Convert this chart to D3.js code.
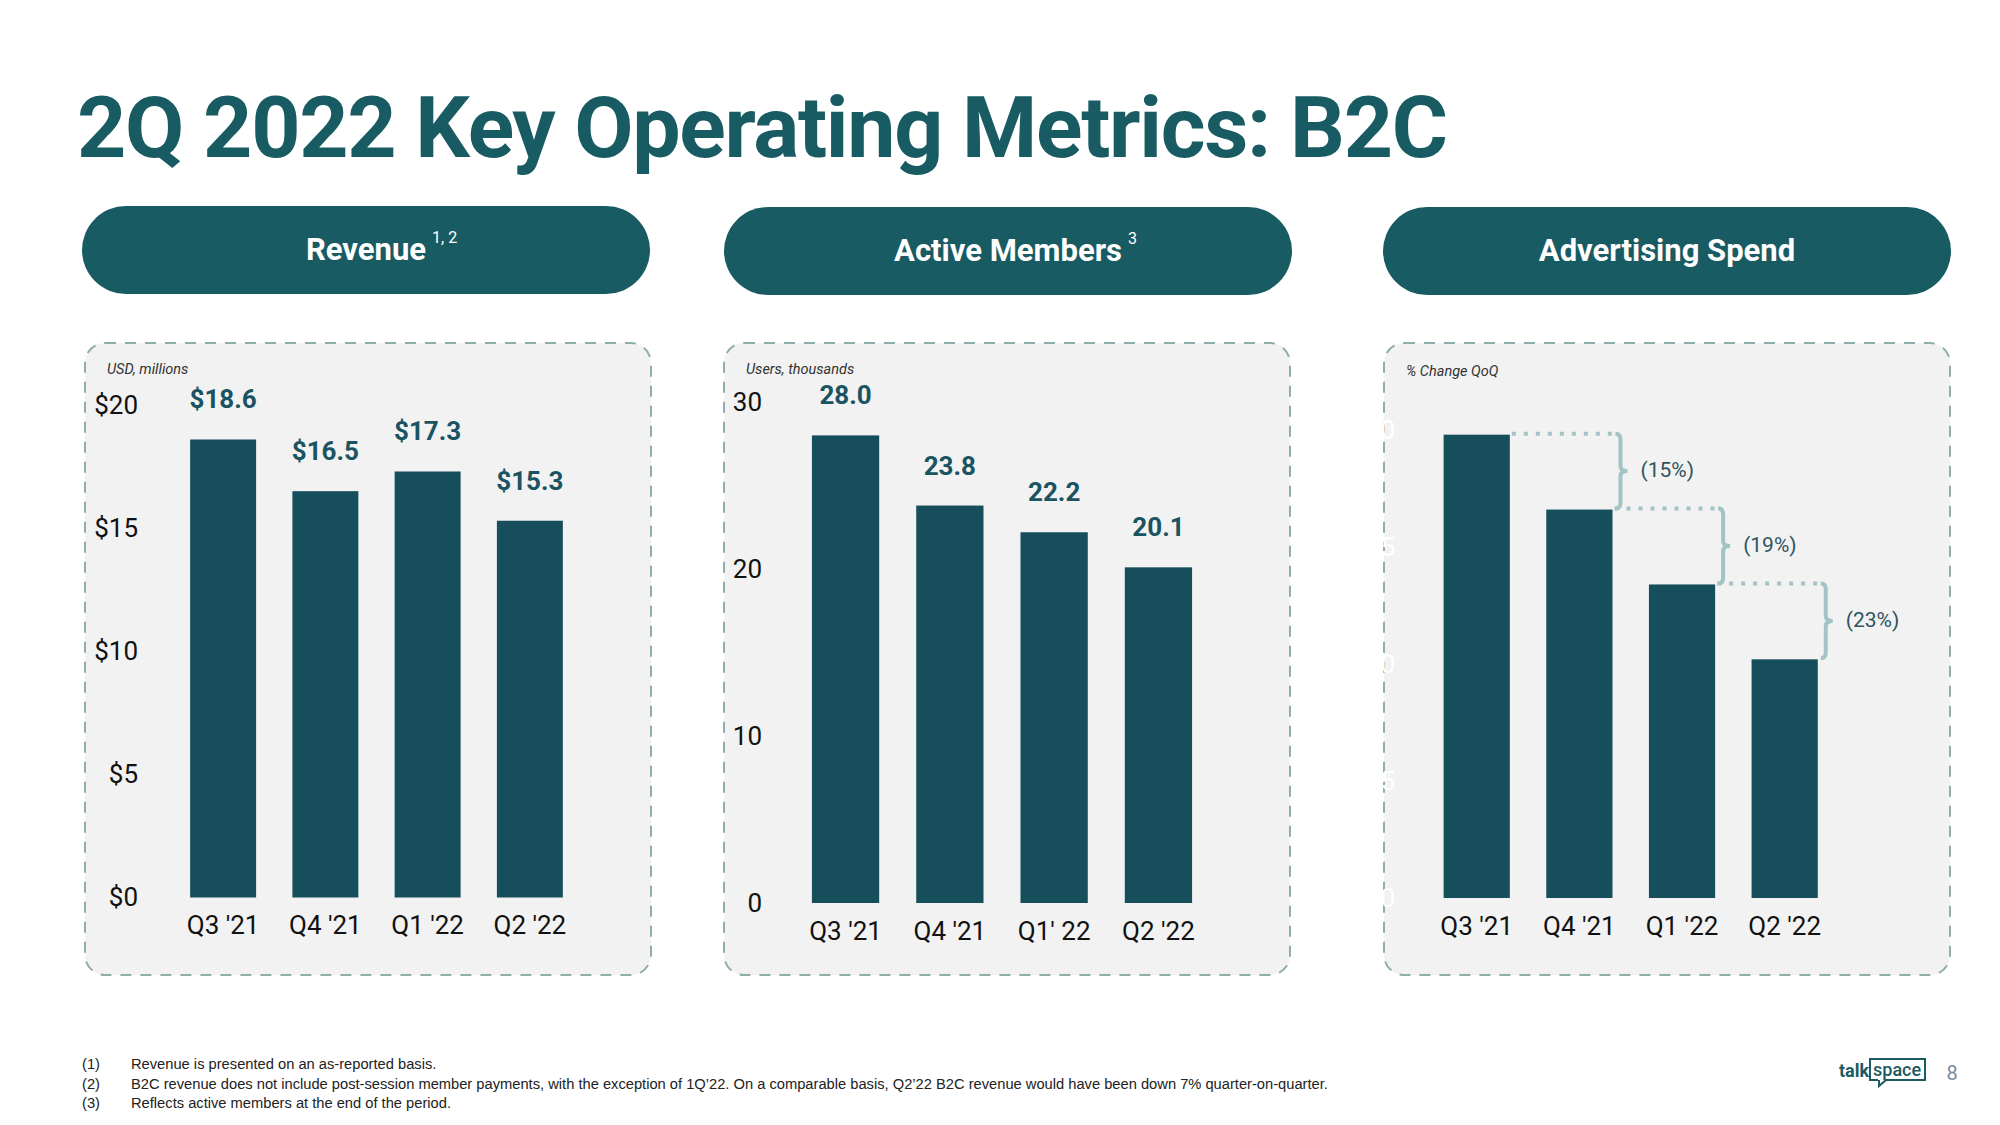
<!DOCTYPE html>
<html><head><meta charset="utf-8">
<script src="https://cdn.jsdelivr.net/npm/d3@7/dist/d3.min.js"></script>
<style>
body{margin:0;background:#fff;}
svg{display:block;}
</style>
</head><body>
<svg id="c" width="2000" height="1125" font-family="Roboto, 'Noto Sans', sans-serif"></svg>
<script>
// ---------- data ----------
const titleText = "2Q 2022 Key Operating Metrics: B2C";
const quarters = ["Q3 '21", "Q4 '21", "Q1 '22", "Q2 '22"];
const quartersMembers = ["Q3 '21", "Q4 '21", "Q1' 22", "Q2 '22"];
const revenue = [18.6, 16.5, 17.3, 15.3];
const revenueLabels = ["$18.6", "$16.5", "$17.3", "$15.3"];
const revenueTicks = [0, 5, 10, 15, 20];
const members = [28.0, 23.8, 22.2, 20.1];
const memberLabels = ["28.0", "23.8", "22.2", "20.1"];
const memberTicks = [0, 10, 20, 30];
const adSpend = [19.8, 16.6, 13.4, 10.2];
const adTicks = [0, 5, 10, 15, 20];
const adChanges = ["(15%)", "(19%)", "(23%)"];
const panelTitles = ["Revenue", "Active Members", "Advertising Spend"];
const panelSupers = ["1, 2", "3", ""];
const panelUnits = ["USD, millions", "Users, thousands", "% Change QoQ"];
const footMarks = ["(1)", "(2)", "(3)"];
const footTexts = [
  "Revenue is presented on an as-reported basis.",
  "B2C revenue does not include post-session member payments, with the exception of 1Q\u201922. On a comparable basis, Q2\u201922 B2C revenue would have been down 7% quarter-on-quarter.",
  "Reflects active members at the end of the period."
];

// ---------- styles ----------
const TEAL = "#185b63";
const BAR = "#164f5b";
const VAL = "#1a5361";
const PANEL_BG = "#f2f2f2";
const DASH = "#8fadaa";
const BRACE = "#a3c3c7";
const ARIAL = "'Liberation Sans', Arial, sans-serif";

const svg = d3.select("#c");

// title
svg.append("text").attr("x", 77).attr("y", 157)
  .attr("font-size", 86).attr("font-weight", 700).attr("fill", TEAL)
  .attr("letter-spacing", -1.3)
  .text(titleText);

// panels layout
const panels = [
  {px: 85, pillX: 82, pillY: 206, ty: 260, range: [172, 581], yRange: [897.5, 405], axisX: 138},
  {px: 724, pillX: 724, pillY: 207, ty: 261, range: [793.4, 1210.6], yRange: [903, 402], axisX: 762},
  {px: 1384, pillX: 1383, pillY: 207, ty: 261, range: [1425.4, 1836], yRange: [898, 430], axisX: 1395}
];
const pillW = 568, pillH = 88, panelW = 566, panelY = 343, panelH = 632;

panels.forEach((p, i) => {
  // pill
  svg.append("rect").attr("x", p.pillX).attr("y", p.pillY).attr("width", pillW).attr("height", pillH)
    .attr("rx", pillH / 2).attr("fill", TEAL);
  const cx = p.pillX + pillW / 2;
  const t = svg.append("text").attr("x", cx).attr("y", p.ty).attr("text-anchor", "middle")
    .attr("font-size", 31).attr("font-weight", 700).attr("fill", "#fff").text(panelTitles[i]);
  if (panelSupers[i]) {
    const w = t.node().getComputedTextLength();
    svg.append("text").attr("x", cx + w / 2 + 6).attr("y", p.ty - 17)
      .attr("font-size", 16).attr("fill", "#fff").text(panelSupers[i]);
  }
  // panel box
  svg.append("rect").attr("x", p.px).attr("y", panelY).attr("width", panelW).attr("height", panelH)
    .attr("rx", 20).attr("fill", PANEL_BG).attr("stroke", DASH).attr("stroke-width", 2)
    .attr("stroke-dasharray", "11,9");
  svg.append("text").attr("x", p.px + 22).attr("y", i === 2 ? 376 : 374)
    .attr("font-size", 14.5).attr("font-style", "italic").attr("fill", "#333")
    .text(panelUnits[i]);
});

function barChart(p, cats, vals, labels, ticks, fmt, tickColor) {
  const x = d3.scaleBand().domain(cats).range(p.range).paddingInner(0.355).paddingOuter(0.1775);
  const y = d3.scaleLinear().domain([ticks[0], ticks[ticks.length - 1]]).range(p.yRange);
  const g = svg.append("g");
  g.selectAll("rect.bar").data(vals).join("rect").attr("class", "bar")
    .attr("x", (d, i) => x(cats[i])).attr("width", x.bandwidth())
    .attr("y", d => y(d)).attr("height", d => y(0) - y(d))
    .attr("fill", BAR);
  // y axis
  const ya = svg.append("g").attr("transform", `translate(${p.axisX},0)`)
    .call(d3.axisLeft(y).tickValues(ticks).tickSize(0).tickPadding(0).tickFormat(fmt));
  ya.attr("font-family", null);
  ya.select(".domain").remove();
  ya.selectAll("text").attr("font-size", 26).attr("fill", tickColor);
  // x axis
  const xa = svg.append("g").attr("transform", `translate(0,${y(0)})`)
    .call(d3.axisBottom(x).tickSize(0).tickPadding(18.5));
  xa.attr("font-family", null);
  xa.select(".domain").remove();
  xa.selectAll("text").attr("font-size", 26).attr("fill", "#111");
  if (labels) {
    g.selectAll("text.val").data(vals).join("text").attr("class", "val")
      .attr("x", (d, i) => x(cats[i]) + x.bandwidth() / 2).attr("y", d => y(d) - 31)
      .attr("text-anchor", "middle").attr("font-size", 26).attr("font-weight", 700)
      .attr("fill", VAL).text((d, i) => labels[i]);
  }
  return {x, y};
}

barChart(panels[0], quarters, revenue, revenueLabels, revenueTicks, d => "$" + d, "#111");
barChart(panels[1], quartersMembers, members, memberLabels, memberTicks, d => d, "#111");
const ad = barChart(panels[2], quarters, adSpend, null, adTicks, d => "$" + d, "#ffffff");

// QoQ brackets
const bw = ad.x.bandwidth();
for (let i = 0; i < adSpend.length - 1; i++) {
  const x0 = ad.x(quarters[i]) + bw;
  const xe = ad.x(quarters[i + 1]) + bw + 8;
  const y1 = ad.y(adSpend[i]) - 1;
  const y2 = ad.y(adSpend[i + 1]) - 1;
  const ym = (y1 + y2) / 2;
  svg.append("line").attr("x1", x0 + 2).attr("x2", xe - 4).attr("y1", y1).attr("y2", y1)
    .attr("stroke", BRACE).attr("stroke-width", 4).attr("stroke-dasharray", "4,8");
  const path = `M${xe - 5},${y1} Q${xe},${y1} ${xe},${y1 + 6} L${xe},${ym - 5} Q${xe},${ym} ${xe + 7},${ym}`
    + ` Q${xe},${ym} ${xe},${ym + 5} L${xe},${y2 - 6} Q${xe},${y2} ${xe - 5},${y2}`;
  svg.append("path").attr("d", path).attr("fill", "none").attr("stroke", BRACE).attr("stroke-width", 4);
  svg.append("text").attr("x", xe + 20).attr("y", ym + 6).attr("font-size", 21)
    .attr("fill", "#2e5560").text(adChanges[i]);
}

// footnotes
footMarks.forEach((m, i) => {
  const yy = 1069 + i * 19.5;
  svg.append("text").attr("x", 82).attr("y", yy).attr("font-size", 14.7)
    .attr("font-family", ARIAL).attr("fill", "#222").text(m);
  svg.append("text").attr("x", 131).attr("y", yy).attr("font-size", 14.7)
    .attr("font-family", ARIAL).attr("fill", "#222").text(footTexts[i]);
});

// logo
const LOGO = "#1d5a62";
svg.append("text").attr("x", 1839).attr("y", 1077).attr("font-size", 18).attr("font-weight", 700)
  .attr("fill", LOGO).text("talk");
svg.append("path")
  .attr("d", "M1878,1080 L1870,1080 L1870,1059 L1925,1059 L1925,1080 L1886,1080 L1879,1086 L1879,1080")
  .attr("fill", "none").attr("stroke", LOGO).attr("stroke-width", 2);
svg.append("text").attr("x", 1873).attr("y", 1076).attr("font-size", 18).attr("font-weight", 500)
  .attr("fill", LOGO).text("space");
svg.append("text").attr("x", 1952).attr("y", 1080).attr("text-anchor", "middle").attr("font-size", 20)
  .attr("fill", "#7b8ca0").text("8");
</script>
</body></html>
